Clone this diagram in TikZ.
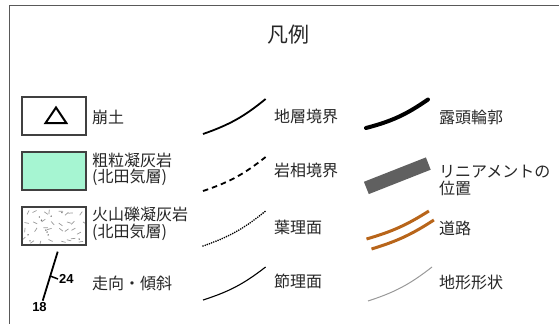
\documentclass[tikz,border=0pt]{standalone}
\usepackage{fontspec}
\setmainfont{Noto Sans CJK JP}
\newfontfamily\numfont{Liberation Sans}
\usetikzlibrary{positioning}
\definecolor{tuffgreen}{HTML}{A6F5D2}
\definecolor{roadbrown}{HTML}{B8651A}
\definecolor{lineagray}{HTML}{606060}

\begin{document}
\begin{tikzpicture}[x=1pt,y=-1pt,
  lbl/.style={anchor=west,inner sep=0pt,text=black!85,align=left,
    font=\fontsize{16}{16.5}\selectfont},
  unitbox/.style={draw=black!75,line width=1.5pt},
  sample/.style={line width=1.8pt,bend right=10}]
  \useasboundingbox (0,0) rectangle (559,324);
  % frame (cut off at right and bottom)
  \draw[black!65,line width=1.5pt] (559,5.5) -- (9.6,5.5) -- (9.6,324);
  \node (title) [inner sep=0pt,text=black!85,font=\fontsize{21}{21}\selectfont] at (288,35) {凡例};
  % units
  \draw[unitbox] (22,97) rectangle (86,135);
  \draw[line width=2pt,line join=miter] (45.6,123) -- (66.3,123) -- (56,107.5) -- cycle;
  \draw[unitbox,fill=tuffgreen] (22,152) rectangle (86,190);
  \begin{scope}
    \clip (23,208) rectangle (85,244);
    \pgfmathsetseed{17}
    \foreach \i in {0,...,7}{
      \foreach \j in {0,...,3}{
        \pgfmathsetmacro\px{27+8*\i+2.5*rand}
        \pgfmathsetmacro\py{212+9*\j+2.5*rand}
        \pgfmathsetmacro\pa{180*rnd}
        \draw[black!40,line width=0.7pt] (\px,\py) -- ++(\pa:4.5);
      }
    }
    \foreach \i in {1,...,10}{
      \pgfmathsetmacro\px{26+56*rnd}
      \pgfmathsetmacro\py{211+30*rnd}
      \fill[black!55] (\px,\py) circle (0.8);
    }
  \end{scope}
  \draw[unitbox] (22,207) rectangle (86,245);
  % strike and dip
  \draw[line width=1.8pt] (57.7,251.7) -- (42.7,300.7);
  \draw[line width=1.5pt] (50.3,276) -- (58,279);
  \node (dip) [anchor=west,inner sep=0pt,font=\fontsize{13}{13}\numfont\bfseries] at (59,279) {24};
  \node (strike) [inner sep=0pt,font=\fontsize{13}{13}\numfont\bfseries] at (39.5,307) {18};
  \node (houdo) [lbl] at (92,117) {崩土};
  \node (soryu) [lbl] at (92,169.5) {粗粒凝灰岩\\(北田気層)};
  \node (kazan) [lbl] at (92,224) {火山礫凝灰岩\\(北田気層)};
  \node (sokou) [lbl] at (92,283) {走向・傾斜};
  % boundaries
  \draw[sample] (203,134) to (265.6,99);
  \draw[sample,dash pattern=on 5.5pt off 4pt] (203,191) to (265.6,157);
  \draw[sample,line width=1.8pt,line cap=round,dash pattern=on 0pt off 2.3pt] (203,246) to (265.6,211);
  \draw[sample,line width=1.1pt] (203,300) to (265.6,267);
  \node (chisou) [lbl] at (274,116) {地層境界};
  \node (gansou) [lbl] at (274,170) {岩相境界};
  \node (youri) [lbl] at (274,227) {葉理面};
  \node (setsuri) [lbl] at (274,281) {節理面};
  % outcrop, lineament, road, landform
  \draw[sample,line width=4pt,line cap=round] (366,128) to (428,99.5);
  \fill[lineagray] (363.9,181.8) -- (368.8,194.1) -- (430.7,169.7) -- (425.9,157.4) -- cycle;
  \draw[sample,roadbrown,line width=3pt,bend right=8] (366.5,239) to (428.9,211);
  \draw[sample,roadbrown,line width=3pt,bend right=8] (371.5,249) to (433.9,220);
  \draw[sample,black!40,line width=1pt] (368,301) to (432,267);
  \node (rotou) [lbl] at (439,117) {露頭輪郭};
  \node (linea) [lbl] at (439,180.5) {リニアメントの\\位置};
  \node (douro) [lbl] at (439,228) {道路};
  \node (chikei) [lbl] at (439,282) {地形形状};
\end{tikzpicture}
\end{document}
